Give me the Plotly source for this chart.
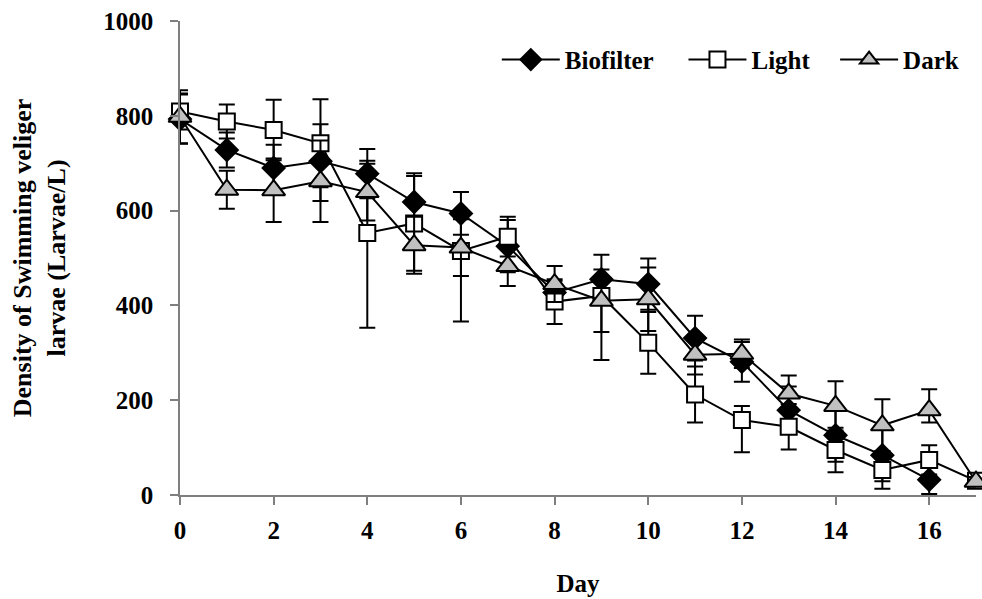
import plotly.graph_objects as go

# Sampling days
days = list(range(0, 18))

# Mean density of swimming veliger larvae (larvae/L) per treatment
biofilter = [793, 728, 690, 704, 678, 618, 594, 525, 427, 455, 445, 331, 281, 179, 126, 84, 32]
light = [809, 788, 770, 742, 553, 573, 515, 545, 408, 420, 321, 212, 158, 144, 95, 53, 74, 30]
dark = [798, 644, 643, 662, 639, 527, 522, 483, 445, 410, 413, 296, 298, 214, 188, 147, 179, 28]

# Error bar extents (upper / lower)
biofilter_up = [52, 37, 49, 78, 52, 61, 45, 55, 25, 52, 54, 47, 42, 50, 56, 55, 30]
biofilter_lo = [52, 37, 49, 84, 52, 61, 45, 55, 25, 52, 54, 47, 42, 50, 56, 55, 30]
light_up = [38, 36, 64, 93, 152, 100, 75, 42, 47, 40, 65, 59, 30, 48, 47, 40, 31, 10]
light_lo = [38, 36, 64, 93, 200, 100, 149, 42, 47, 135, 65, 59, 68, 48, 47, 40, 31, 10]
dark_up = [56, 40, 67, 86, 60, 60, 60, 42, 38, 66, 67, 42, 30, 38, 52, 55, 44, 10]
dark_lo = [56, 40, 67, 86, 60, 60, 60, 42, 38, 66, 67, 42, 30, 38, 52, 55, 26, 10]

x_ticks = [0, 2, 4, 6, 8, 10, 12, 14, 16]
y_ticks = [0, 200, 400, 600, 800, 1000]

FONT = "Liberation Serif"
AXIS_GREY = "#7f7f7f"

fig = go.Figure()


def add_series(name, y, up, lo, symbol, size, fill, legend):
    fig.add_trace(go.Scatter(
        x=days[:len(y)], y=y, name=name, mode="lines+markers",
        line=dict(color="black", width=2),
        marker=dict(symbol=symbol, size=size, color=fill,
                    line=dict(color="black", width=2)),
        error_y=dict(type="data", symmetric=False, array=up, arrayminus=lo,
                     color="black", thickness=2, width=8),
        cliponaxis=False, legend=legend, showlegend=True,
    ))


add_series("Biofilter", biofilter, biofilter_up, biofilter_lo,
           "diamond", 17, "black", "legend")
add_series("Light", light, light_up, light_lo,
           "square", 16, "white", "legend2")
add_series("Dark", dark, dark_up, dark_lo,
           "triangle-up", 20, "#c0c0c0", "legend3")

legend_common = dict(orientation="h", yanchor="middle", xanchor="left", y=0.918,
                     font=dict(family=FONT, size=25, color="black", weight="bold"),
                     bgcolor="rgba(0,0,0,0)", itemwidth=58, borderwidth=0,
                     visible=True)

fig.update_layout(
    width=982, height=599,
    margin=dict(l=180, r=6, t=21, b=102),
    paper_bgcolor="white", plot_bgcolor="white",
    showlegend=True,
    font=dict(family=FONT, size=25, color="black", weight="bold"),
    legend=dict(x=0.398, **legend_common),
    legend2=dict(x=0.6325, **legend_common),
    legend3=dict(x=0.823, **legend_common),
    xaxis=dict(
        range=[0, 17], tickvals=x_ticks, showgrid=False, zeroline=False,
        showline=True, linecolor=AXIS_GREY, linewidth=1.5,
        ticks="outside", ticklen=8, tickcolor=AXIS_GREY, tickwidth=1.5,
        tickfont=dict(family=FONT, size=25, color="black", weight="bold"),
        ticklabelstandoff=4,
        title=dict(text="Day", standoff=32,
                   font=dict(family=FONT, size=25, color="black", weight="bold")),
    ),
    yaxis=dict(
        range=[0, 1000], tickvals=y_ticks, showgrid=False, zeroline=False,
        showline=True, linecolor=AXIS_GREY, linewidth=1.5,
        ticks="outside", ticklen=8, tickcolor=AXIS_GREY, tickwidth=1.5,
        tickfont=dict(family=FONT, size=25, color="black", weight="bold"),
        ticklabelstandoff=12,
        title=dict(text="Density of Swimming veliger<br>larvae (Larvae/L)", standoff=30,
                   font=dict(family=FONT, size=26, color="black", weight="bold")),
    ),
)

fig.write_html("out.html")
